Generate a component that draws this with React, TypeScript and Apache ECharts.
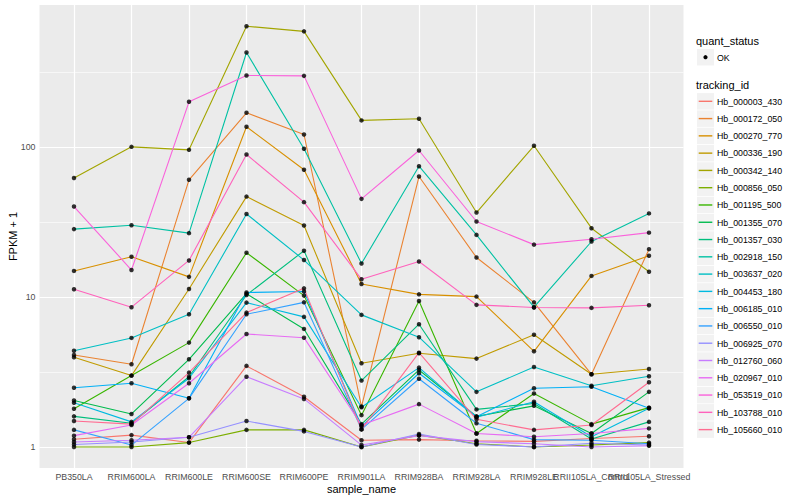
import React, { useEffect, useRef } from "react";
import * as echarts from "echarts";

const samples = [
  "PB350LA", "RRIM600LA", "RRIM600LE", "RRIM600SE", "RRIM600PE", "RRIM901LA",
  "RRIM928BA", "RRIM928LA", "RRIM928LE", "RRII105LA_Control", "RRII105LA_Stressed",
];

const trackingIds = [
  "Hb_000003_430", "Hb_000172_050", "Hb_000270_770", "Hb_000336_190", "Hb_000342_140",
  "Hb_000856_050", "Hb_001195_500", "Hb_001355_070", "Hb_001357_030", "Hb_002918_150",
  "Hb_003637_020", "Hb_004453_180", "Hb_006185_010", "Hb_006550_010", "Hb_006925_070",
  "Hb_012760_060", "Hb_020967_010", "Hb_053519_010", "Hb_103788_010", "Hb_105660_010",
];

const colors = [
  "#F8766D", "#EA8331", "#D89000", "#C09B00", "#A3A500", "#7CAE00", "#39B600", "#00BB4E",
  "#00BF7D", "#00C1A3", "#00BFC4", "#00BAE0", "#00B0F6", "#35A2FF", "#9590FF", "#C77CFF",
  "#E76BF3", "#FA62DB", "#FF62BC", "#FF6C91",
];

// FPKM + 1 per sample
const hb_000003_430 = [1.125, 1.2, 1.07, 3.47, 2.16, 1.11, 1.12, 1.1, 1.09, 1.14, 1.18];
const hb_000172_050 = [4.1, 3.56, 60.3, 168.5, 120.8, 1.86, 63.4, 18.3, 9.2, 3.05, 20.8];
const hb_000270_770 = [14.9, 18.5, 13.6, 136, 70.3, 12.2, 10.4, 10.05, 4.34, 13.8, 18.8];
const hb_000336_190 = [3.96, 2.99, 11.3, 46.6, 29.9, 3.61, 4.21, 3.88, 5.6, 3.05, 3.31];
const hb_000342_140 = [62, 100, 95.5, 636, 588, 150, 154, 36.5, 101.6, 28.7, 14.7];
const hb_000856_050 = [1.0, 1.0, 1.07, 1.3, 1.3, 1.0, 1.2, 1.05, 1.0, 1.03, 1.07];
const hb_001195_500 = [1.8, 2.99, 4.96, 19.7, 10.2, 1.63, 9.4, 1.23, 2.27, 1.42, 1.83];
const hb_001355_070 = [2.04, 1.66, 3.84, 10.5, 6.12, 1.42, 3.26, 1.6, 1.88, 1.23, 2.33];
const hb_001357_030 = [1.6, 1.44, 2.94, 10.3, 20.3, 2.77, 6.58, 1.78, 1.95, 1.13, 1.47];
const hb_002918_150 = [28.3, 30, 26.6, 425, 97, 16.7, 74.3, 25.9, 8.54, 23.4, 36];
const hb_003637_020 = [4.38, 5.33, 7.66, 35.7, 17.6, 7.59, 5.39, 2.33, 3.41, 2.56, 2.96];
const hb_004453_180 = [1.97, 1.47, 2.87, 9.16, 7.36, 1.84, 3.38, 1.58, 2.0, 1.17, 1.81];
const hb_006185_010 = [2.48, 2.66, 2.11, 10.7, 10.86, 1.37, 3.1, 1.59, 2.46, 2.52, 1.81];
const hb_006550_010 = [1.3, 1.03, 2.11, 7.66, 9.2, 1.31, 2.85, 1.44, 1.12, 1.11, 1.05];
const hb_006925_070 = [1.04, 1.08, 1.16, 1.49, 1.27, 1.0, 1.22, 1.04, 1.0, 1.06, 1.03];
const hb_012760_060 = [1.08, 1.11, 1.16, 2.94, 2.09, 1.03, 1.19, 1.085, 1.05, 1.0, 1.02];
const hb_020967_010 = [1.19, 1.4, 2.66, 5.66, 5.35, 1.4, 1.93, 1.23, 1.17, 1.23, 1.33];
const hb_053519_010 = [40, 15.1, 199.5, 299, 297, 45, 94.5, 31.8, 22.3, 24.2, 26.8];
const hb_103788_010 = [11.25, 8.54, 17.5, 88.9, 42.8, 13.1, 17.2, 8.85, 8.5, 8.45, 8.8];
const hb_105660_010 = [1.49, 1.42, 3.13, 7.86, 11.4, 1.31, 4.25, 1.53, 1.3, 1.4, 2.7];

const seriesValues = [
  hb_000003_430, hb_000172_050, hb_000270_770, hb_000336_190, hb_000342_140,
  hb_000856_050, hb_001195_500, hb_001355_070, hb_001357_030, hb_002918_150,
  hb_003637_020, hb_004453_180, hb_006185_010, hb_006550_010, hb_006925_070,
  hb_012760_060, hb_020967_010, hb_053519_010, hb_103788_010, hb_105660_010,
];

const yTickValues = [1, 10, 100];
const yMinorValues = [3.1623, 31.623, 316.23];

const FONT = "Liberation Sans, Arial, Helvetica, sans-serif";

export default function App() {
  const ref = useRef<HTMLDivElement>(null);

  useEffect(() => {
    if (!ref.current) return;
    const chart = echarts.init(ref.current, undefined, { renderer: "svg" });

    const gridLeft = 39.5;
    const gridTop = 5;
    const gridW = 644;
    const gridH = 463;

    const lineSeries = seriesValues.map((vals, k) => ({
      type: "line",
      name: trackingIds[k],
      data: vals.map((v, i) => [i, Math.log10(v)]),
      showSymbol: false,
      symbol: "none",
      silent: true,
      z: 2,
      lineStyle: { color: colors[k], width: 1.1 },
      itemStyle: { color: colors[k] },
    }));

    const points: number[][] = [];
    seriesValues.forEach((vals) => vals.forEach((v, i) => points.push([i, Math.log10(v)])));

    const markData: any[] = [];
    yTickValues.forEach((v) =>
      markData.push({ yAxis: Math.log10(v), lineStyle: { color: "#FFFFFF", width: 1.2, type: "solid" } })
    );
    yMinorValues.forEach((v) =>
      markData.push({ yAxis: Math.log10(v), lineStyle: { color: "#FFFFFF", width: 0.6, type: "solid" } })
    );
    samples.forEach((_, i) =>
      markData.push({ xAxis: i, lineStyle: { color: "#FFFFFF", width: 1.2, type: "solid" } })
    );

    const scatter = {
      type: "scatter",
      name: "points",
      data: points,
      symbol: "circle",
      symbolSize: 4.5,
      silent: true,
      z: 3,
      itemStyle: { color: "#000000" },
      markLine: {
        silent: true,
        z: 1,
        symbol: ["none", "none"],
        label: { show: false },
        emphasis: { disabled: true },
        animation: false,
        data: markData,
      },
    };

    // legend graphics
    const legendX = 697;
    const graphics: any[] = [];
    graphics.push({
      type: "text", x: 696, y: 40.5,
      style: { text: "quant_status", font: `11px ${FONT}`, fill: "#000", verticalAlign: "middle" },
    });
    graphics.push({
      type: "rect", shape: { x: legendX, y: 49, width: 17, height: 16.5 },
      style: { fill: "#F2F2F2" },
    });
    graphics.push({
      type: "circle", shape: { cx: legendX + 8.5, cy: 57.2, r: 2.1 },
      style: { fill: "#000" },
    });
    graphics.push({
      type: "text", x: 717, y: 57.5,
      style: { text: "OK", font: `8.8px ${FONT}`, fill: "#000", verticalAlign: "middle" },
    });
    graphics.push({
      type: "text", x: 696, y: 84.5,
      style: { text: "tracking_id", font: `11px ${FONT}`, fill: "#000", verticalAlign: "middle" },
    });
    trackingIds.forEach((id, k) => {
      const cy = 101.3 + k * 17.28;
      graphics.push({
        type: "rect", shape: { x: legendX, y: cy - 8.2, width: 17, height: 16.5 },
        style: { fill: "#F2F2F2" },
      });
      graphics.push({
        type: "line", shape: { x1: legendX + 1.7, y1: cy, x2: legendX + 15.3, y2: cy },
        style: { stroke: colors[k], lineWidth: 1.4 },
      });
      graphics.push({
        type: "text", x: 717, y: cy + 0.3,
        style: { text: id, font: `8.8px ${FONT}`, fill: "#000", verticalAlign: "middle" },
      });
    });
    graphics.push({
      type: "text", x: 13, y: gridTop + gridH / 2, rotation: Math.PI / 2,
      style: { text: "FPKM + 1", font: `11px ${FONT}`, fill: "#000", align: "center", verticalAlign: "middle" },
    });
    graphics.push({
      type: "text", x: gridLeft + gridW / 2, y: 489,
      style: { text: "sample_name", font: `11px ${FONT}`, fill: "#000", align: "center", verticalAlign: "middle" },
    });

    const xTicks = samples.map((_, i) => i);
    const evenTicks = xTicks.filter((i) => i % 2 === 0);
    const oddTicks = xTicks.filter((i) => i % 2 === 1);

    const xLabelBase = {
      show: true,
      formatter: (v: number) => samples[Math.round(v)] ?? "",
      color: "#4D4D4D",
      fontSize: 8.8,
      fontFamily: FONT,
      margin: 4,
      hideOverlap: false,
      showMinLabel: true,
      showMaxLabel: true,
    };

    chart.setOption({
      animation: false,
      backgroundColor: "#FFFFFF",
      grid: {
        left: gridLeft, top: gridTop, width: gridW, height: gridH,
        show: true, backgroundColor: "#EBEBEB", borderWidth: 0, containLabel: false,
      },
      xAxis: [
        {
          type: "value",
          position: "bottom",
          min: -0.6,
          max: 10.6,
          splitLine: { show: false },
          axisLine: { show: false },
          axisTick: { show: true, customValues: xTicks, length: 3, lineStyle: { color: "#333333", width: 1 } },
          axisLabel: { ...xLabelBase, customValues: evenTicks },
        },
        {
          type: "value",
          position: "bottom",
          offset: 0,
          min: -0.6,
          max: 10.6,
          splitLine: { show: false },
          axisLine: { show: false },
          axisTick: { show: false },
          axisLabel: { ...xLabelBase, customValues: oddTicks },
        },
      ],
      yAxis: {
        type: "value",
        min: -0.14,
        max: 2.945,
        splitLine: { show: false },
        axisLine: { show: false },
        axisTick: {
          show: true,
          customValues: yTickValues.map((v) => Math.log10(v)),
          length: 3,
          lineStyle: { color: "#333333", width: 1 },
        },
        axisLabel: {
          show: true,
          customValues: yTickValues.map((v) => Math.log10(v)),
          formatter: (v: number) => String(Math.round(Math.pow(10, v))),
          color: "#4D4D4D",
          fontSize: 8.8,
          fontFamily: FONT,
          margin: 4,
          showMinLabel: true,
          showMaxLabel: true,
        },
      },
      series: [...lineSeries, scatter],
      graphic: graphics,
    });

    return () => chart.dispose();
  }, []);

  return (
    <div
      ref={ref}
      style={{ position: "fixed", left: 0, top: 0, width: 800, height: 500 }}
    />
  );
}
